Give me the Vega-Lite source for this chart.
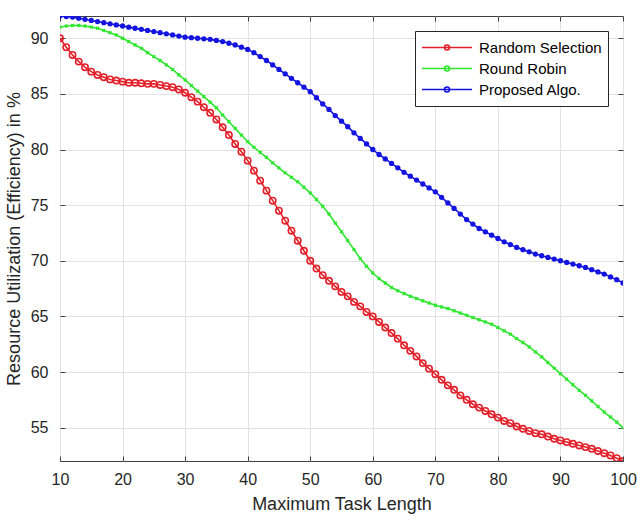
{
  "$schema": "https://vega.github.io/schema/vega-lite/v6.json",
  "width": 563,
  "height": 445,
  "autosize": {"type": "none"},
  "padding": {"left": 60, "top": 16, "right": 14, "bottom": 55},
  "background": "white",
  "config": {
    "view": {"stroke": "#404040", "strokeWidth": 1},
    "font": "Liberation Sans",
    "axis": {
      "labelFont": "Liberation Sans",
      "titleFont": "Liberation Sans",
      "labelColor": "#262626",
      "titleColor": "#262626",
      "labelFontSize": 16,
      "titleFontSize": 18,
      "titleFontWeight": "normal",
      "gridColor": "#e2e2e2",
      "gridWidth": 1,
      "tickColor": "#404040",
      "tickSize": -5,
      "labelFlush": false,
      "domain": false
    },
    "legend": {
      "labelFont": "Liberation Sans",
      "labelFontSize": 15,
      "labelColor": "#000000"
    }
  },
  "data": {
    "values": [
      {"x":10,"r":90,"g":91.0,"b":92.0},
      {"x":11,"r":89.2,"g":91.1,"b":91.95},
      {"x":12,"r":88.5,"g":91.15,"b":91.9},
      {"x":13,"r":87.9,"g":91.15,"b":91.8},
      {"x":14,"r":87.4,"g":91.1,"b":91.7},
      {"x":15,"r":87.0,"g":91.0,"b":91.6},
      {"x":16,"r":86.7,"g":90.9,"b":91.5},
      {"x":17,"r":86.5,"g":90.7,"b":91.4},
      {"x":18,"r":86.3,"g":90.5,"b":91.3},
      {"x":19,"r":86.2,"g":90.3,"b":91.2},
      {"x":20,"r":86.1,"g":90.0,"b":91.1},
      {"x":21,"r":86.0,"g":89.7,"b":91.0},
      {"x":22,"r":86.0,"g":89.4,"b":90.9},
      {"x":23,"r":85.95,"g":89.1,"b":90.8},
      {"x":24,"r":85.9,"g":88.7,"b":90.7},
      {"x":25,"r":85.9,"g":88.35,"b":90.6},
      {"x":26,"r":85.8,"g":88.0,"b":90.5},
      {"x":27,"r":85.7,"g":87.6,"b":90.4},
      {"x":28,"r":85.6,"g":87.2,"b":90.3},
      {"x":29,"r":85.4,"g":86.7,"b":90.2},
      {"x":30,"r":85.1,"g":86.25,"b":90.1},
      {"x":31,"r":84.7,"g":85.75,"b":90.05},
      {"x":32,"r":84.3,"g":85.25,"b":90.0},
      {"x":33,"r":83.8,"g":84.75,"b":89.95},
      {"x":34,"r":83.3,"g":84.25,"b":89.9},
      {"x":35,"r":82.7,"g":83.75,"b":89.8},
      {"x":36,"r":82.0,"g":83.1,"b":89.7},
      {"x":37,"r":81.3,"g":82.5,"b":89.55},
      {"x":38,"r":80.5,"g":81.9,"b":89.4},
      {"x":39,"r":79.8,"g":81.3,"b":89.2},
      {"x":40,"r":79.0,"g":80.7,"b":89.0},
      {"x":41,"r":78.1,"g":80.2,"b":88.7},
      {"x":42,"r":77.2,"g":79.75,"b":88.35},
      {"x":43,"r":76.3,"g":79.3,"b":88.0},
      {"x":44,"r":75.4,"g":78.8,"b":87.6},
      {"x":45,"r":74.5,"g":78.35,"b":87.2},
      {"x":46,"r":73.6,"g":77.9,"b":86.8},
      {"x":47,"r":72.7,"g":77.5,"b":86.4},
      {"x":48,"r":71.8,"g":77.1,"b":86.0},
      {"x":49,"r":70.9,"g":76.6,"b":85.6},
      {"x":50,"r":70.0,"g":76.1,"b":85.2},
      {"x":51,"r":69.3,"g":75.5,"b":84.65},
      {"x":52,"r":68.7,"g":74.9,"b":84.1},
      {"x":53,"r":68.2,"g":74.2,"b":83.6},
      {"x":54,"r":67.7,"g":73.4,"b":83.05},
      {"x":55,"r":67.2,"g":72.6,"b":82.55},
      {"x":56,"r":66.8,"g":71.8,"b":82.05},
      {"x":57,"r":66.3,"g":71.0,"b":81.5},
      {"x":58,"r":65.9,"g":70.2,"b":81.0},
      {"x":59,"r":65.4,"g":69.5,"b":80.5},
      {"x":60,"r":65.0,"g":68.9,"b":80.0},
      {"x":61,"r":64.5,"g":68.4,"b":79.55},
      {"x":62,"r":64.0,"g":68.0,"b":79.15},
      {"x":63,"r":63.5,"g":67.6,"b":78.75},
      {"x":64,"r":63.0,"g":67.3,"b":78.35},
      {"x":65,"r":62.4,"g":67.05,"b":77.95},
      {"x":66,"r":61.9,"g":66.8,"b":77.6},
      {"x":67,"r":61.4,"g":66.6,"b":77.25},
      {"x":68,"r":60.8,"g":66.4,"b":76.9},
      {"x":69,"r":60.3,"g":66.2,"b":76.55},
      {"x":70,"r":59.8,"g":66.0,"b":76.2},
      {"x":71,"r":59.3,"g":65.85,"b":75.7},
      {"x":72,"r":58.8,"g":65.7,"b":75.2},
      {"x":73,"r":58.4,"g":65.5,"b":74.7},
      {"x":74,"r":57.9,"g":65.3,"b":74.2},
      {"x":75,"r":57.5,"g":65.1,"b":73.7},
      {"x":76,"r":57.1,"g":64.9,"b":73.3},
      {"x":77,"r":56.8,"g":64.7,"b":72.9},
      {"x":78,"r":56.5,"g":64.5,"b":72.6},
      {"x":79,"r":56.2,"g":64.3,"b":72.3},
      {"x":80,"r":55.9,"g":64.0,"b":72.0},
      {"x":81,"r":55.6,"g":63.7,"b":71.7},
      {"x":82,"r":55.4,"g":63.4,"b":71.45},
      {"x":83,"r":55.1,"g":63.0,"b":71.2},
      {"x":84,"r":54.9,"g":62.65,"b":71.0},
      {"x":85,"r":54.7,"g":62.25,"b":70.8},
      {"x":86,"r":54.5,"g":61.8,"b":70.6},
      {"x":87,"r":54.4,"g":61.35,"b":70.45},
      {"x":88,"r":54.2,"g":60.85,"b":70.3},
      {"x":89,"r":54.0,"g":60.35,"b":70.15},
      {"x":90,"r":53.85,"g":59.85,"b":70.0},
      {"x":91,"r":53.7,"g":59.35,"b":69.85},
      {"x":92,"r":53.55,"g":58.85,"b":69.7},
      {"x":93,"r":53.4,"g":58.35,"b":69.55},
      {"x":94,"r":53.25,"g":57.9,"b":69.4},
      {"x":95,"r":53.1,"g":57.4,"b":69.2},
      {"x":96,"r":52.9,"g":56.9,"b":69.0},
      {"x":97,"r":52.7,"g":56.4,"b":68.8},
      {"x":98,"r":52.5,"g":55.95,"b":68.55},
      {"x":99,"r":52.25,"g":55.5,"b":68.3},
      {"x":100,"r":52.0,"g":55.0,"b":68.0}
    ]
  },
  "transform": [
    {"fold": ["r", "g", "b"], "as": ["series", "value"]}
  ],
  "encoding": {
    "x": {
      "field": "x", "type": "quantitative",
      "scale": {"domain": [10, 100], "nice": false, "zero": false}
    },
    "y": {
      "field": "value", "type": "quantitative",
      "scale": {"domain": [52, 92], "nice": false, "zero": false}
    }
  },
  "layer": [
    {
      "mark": {"type": "line", "strokeWidth": 1.6, "clip": true},
      "encoding": {
        "x": {
          "field": "x", "type": "quantitative",
          "axis": {"orient": "bottom", "values": [10,20,30,40,50,60,70,80,90,100], "title": "Maximum Task Length", "labelPadding": 15, "titlePadding": 8, "grid": true}
        },
        "y": {
          "field": "value", "type": "quantitative",
          "axis": {"orient": "left", "values": [55,60,65,70,75,80,85,90], "title": "Resource Utilization (Efficiency) in %", "labelPadding": 17, "titlePadding": 7, "grid": true}
        },
        "color": {
          "field": "series", "type": "nominal",
          "scale": {"domain": ["r", "g", "b"], "range": ["#e3202a", "#2fe62f", "#1414e0"]},
          "legend": {
            "title": null,
            "orient": "none",
            "legendX": 355,
            "legendY": 15,
            "padding": 6,
            "strokeColor": "#262626",
            "fillColor": "white",
            "symbolType": "M-1,0H1M-0.1,0A0.1,0.1,0,1,1,0.1,0A0.1,0.1,0,1,1,-0.1,0Z",
            "symbolSize": 2500,
            "symbolStrokeWidth": 1.6,
            "labelOffset": 6,
            "clipHeight": 21,
            "rowPadding": 0,
            "labelExpr": "datum.label == 'r' ? 'Random Selection' : datum.label == 'g' ? 'Round Robin' : 'Proposed Algo.'"
          }
        }
      }
    },
    {
      "transform": [{"filter": "datum.series == 'r'"}],
      "mark": {"type": "point", "shape": "circle", "filled": false, "color": "#e3202a", "size": 40, "strokeWidth": 1.6, "opacity": 1, "clip": true},
      "encoding": {
        "x": {"field": "x", "type": "quantitative", "axis": {"orient": "top", "values": [10,20,30,40,50,60,70,80,90,100], "labels": false, "title": null, "grid": false}},
        "y": {"field": "value", "type": "quantitative", "axis": {"orient": "right", "values": [55,60,65,70,75,80,85,90], "labels": false, "title": null, "grid": false}}
      }
    },
    {
      "transform": [{"filter": "datum.series == 'g'"}],
      "mark": {"type": "point", "shape": "cross", "angle": 45, "filled": true, "color": "#2fe62f", "size": 16, "opacity": 1, "clip": true},
      "encoding": {
        "x": {"field": "x", "type": "quantitative", "axis": null},
        "y": {"field": "value", "type": "quantitative", "axis": null}
      }
    },
    {
      "transform": [{"filter": "datum.series == 'b'"}],
      "mark": {"type": "point", "shape": "circle", "filled": true, "color": "#1414e0", "size": 28, "opacity": 1, "clip": true},
      "encoding": {
        "x": {"field": "x", "type": "quantitative", "axis": null},
        "y": {"field": "value", "type": "quantitative", "axis": null}
      }
    }
  ],
  "resolve": {"axis": {"x": "independent", "y": "independent"}}
}
